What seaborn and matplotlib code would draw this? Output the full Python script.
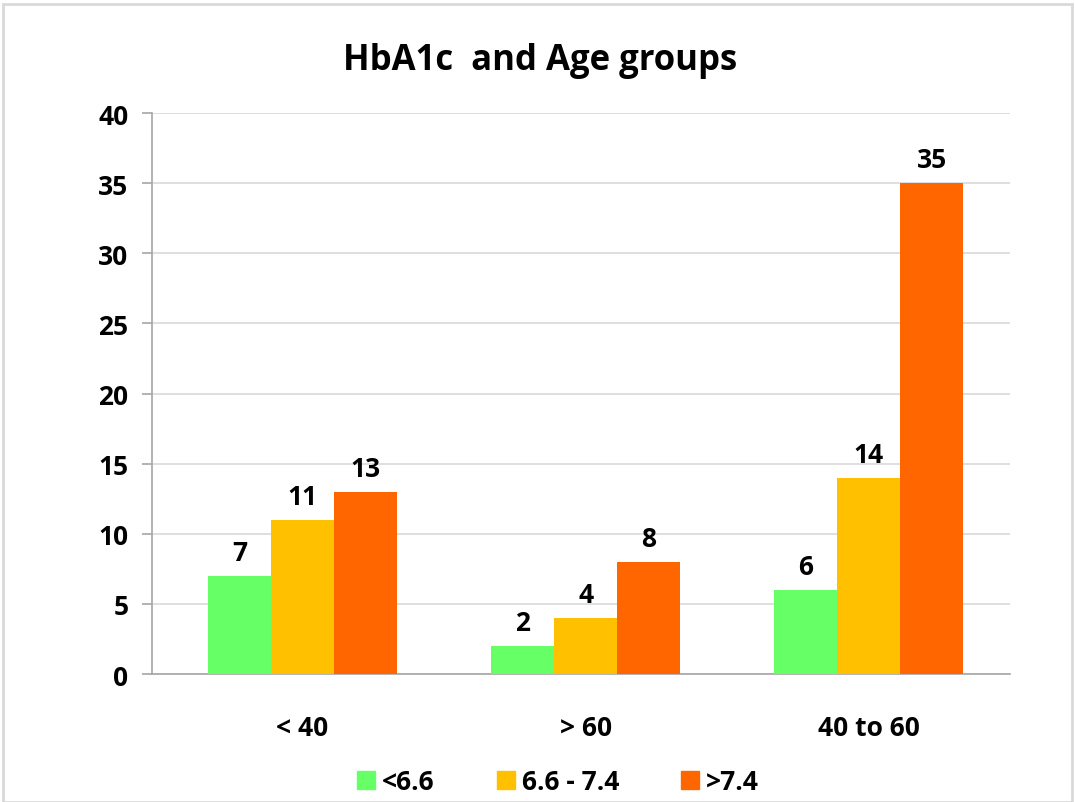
import matplotlib
matplotlib.use("Agg")
import matplotlib.pyplot as plt
import seaborn as sns
import pandas as pd
from matplotlib.patches import Rectangle

age_groups = ["< 40", "> 60", "40 to 60"]
hba1c_levels = ["<6.6", "6.6 - 7.4", ">7.4"]
low_counts = [7, 2, 6]
mid_counts = [11, 4, 14]
high_counts = [13, 8, 35]
bar_colors = ["#66FF66", "#FFC000", "#FF6600"]

rows = []
for level, counts in zip(hba1c_levels, [low_counts, mid_counts, high_counts]):
    for grp, c in zip(age_groups, counts):
        rows.append({"age": grp, "level": level, "count": c})
df = pd.DataFrame(rows)

sns.set_theme(style="white")
plt.rcParams["font.family"] = ["Open Sans", "DejaVu Sans"]
plt.rcParams["font.weight"] = "bold"
plt.rcParams["text.color"] = "black"
plt.rcParams["xtick.color"] = "black"
plt.rcParams["ytick.color"] = "black"

fig = plt.figure(figsize=(10.75, 8.03), dpi=100)
ax = fig.add_axes([0.1414, 0.1594, 0.7981, 0.6986])

sns.barplot(data=df, x="age", y="count", hue="level", order=age_groups,
            hue_order=hba1c_levels, palette=bar_colors, width=0.667,
            saturation=1, linewidth=0, ax=ax, legend=False, zorder=3)

for container in ax.containers:
    ax.bar_label(container, padding=7, fontsize=19, fontweight="bold",
                 color="black")

ax.set_xlim(-0.531, 2.498)
ax.set_ylim(0, 40)
ax.set_yticks(range(0, 41, 5))
ax.yaxis.grid(True, color="#D9D9D9", linewidth=1.2, zorder=0)
ax.set_axisbelow(True)
ax.set_xlabel("")
ax.set_ylabel("")
for side in ["top", "right"]:
    ax.spines[side].set_visible(False)
for side in ["left", "bottom"]:
    ax.spines[side].set_color("#A6A6A6")
    ax.spines[side].set_linewidth(1.2)
ax.tick_params(axis="y", left=True, length=7, color="#A6A6A6", width=1.2,
               labelsize=19, pad=10, labelcolor="black")
ax.tick_params(axis="x", bottom=False, labelsize=19, pad=23,
               labelcolor="black")
for lbl in ax.get_xticklabels() + ax.get_yticklabels():
    lbl.set_fontweight("bold")

fig.text(0.502, 0.9128, "HbA1c  and Age groups", ha="center", va="baseline",
         fontsize=25, fontweight="bold", color="black")

handles = [Rectangle((0, 0), 1, 1, color=c) for c in bar_colors]
fig.legend(handles, hba1c_levels, loc="center", bbox_to_anchor=(0.519, 0.025),
           ncol=3, frameon=False, handlelength=0.68,
           handleheight=0.68, handletextpad=0.27, columnspacing=2.35,
           prop={"weight": "bold", "size": 19})

fig.patches.append(Rectangle((0.003, 0.0), 0.994, 0.994, transform=fig.transFigure,
                             fill=False, edgecolor="#D9D9D9", linewidth=2))

fig.savefig("out.png", dpi=100)
